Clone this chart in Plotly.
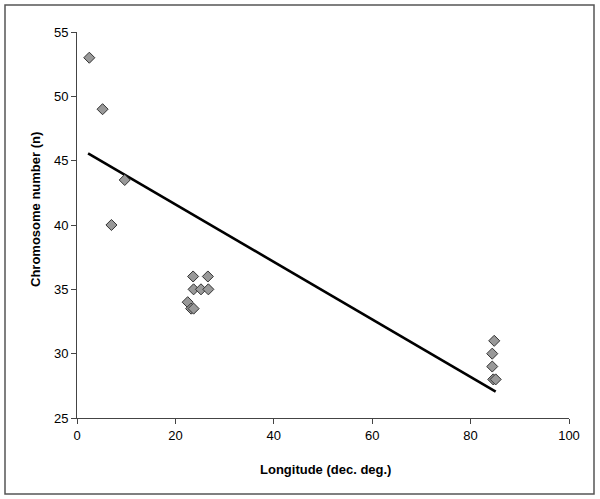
import plotly.graph_objects as go

longitude = [2.5, 5.2, 7.0, 9.7, 23.6, 26.6, 23.7, 25.2, 26.7, 22.5, 23.2, 23.7,
             84.8, 84.4, 84.4, 84.6, 85.1]
chromosomes = [53, 49, 40, 43.5, 36, 36, 35, 35, 35, 34, 33.5, 33.5,
               31, 30, 29, 28, 28]
trend_slope = -0.2234
trend_intercept = 46.07

x_ticks = [0, 20, 40, 60, 80, 100]
y_ticks = [25, 30, 35, 40, 45, 50, 55]
x_title = "Longitude (dec. deg.)"
y_title = "Chromosome number (n)"

tx = [min(longitude) - 0.25, max(longitude)]
ty = [trend_intercept + trend_slope * v for v in tx]

fig = go.Figure()
fig.add_trace(go.Scatter(x=tx, y=ty, mode="lines",
                         line=dict(color="black", width=2.6),
                         hoverinfo="skip", showlegend=False))
fig.add_trace(go.Scatter(x=longitude, y=chromosomes, mode="markers",
                         marker=dict(symbol="diamond", size=8.5, color="#999999",
                                     line=dict(color="#333333", width=1)),
                         showlegend=False))

W, H = 600, 499
l, r, t, b = 77, 31, 32, 81
pw, ph = W - l - r, H - t - b

def px(x):
    return (x - l) / pw

def py(y):
    return (H - b - y) / ph

fig.add_shape(type="rect", xref="paper", yref="paper",
              x0=px(5), x1=px(594), y0=py(494), y1=py(5),
              line=dict(color="#555555", width=1.5))

axis_font = dict(family="Liberation Sans, Arial", size=13, color="black")
fig.add_annotation(text="<b>" + y_title + "</b>", xref="paper", yref="paper",
                   x=px(35), y=py(210), textangle=-90, showarrow=False,
                   xanchor="center", yanchor="middle", font=axis_font)
fig.add_annotation(text="<b>" + x_title + "</b>", xref="paper", yref="paper",
                   x=px(325), y=py(469), showarrow=False,
                   xanchor="center", yanchor="middle", font=axis_font)

fig.update_layout(
    width=W, height=H,
    margin=dict(l=l, r=r, t=t, b=b),
    paper_bgcolor="white", plot_bgcolor="white",
    xaxis=dict(range=[0, 100], tickvals=x_ticks, showgrid=False, zeroline=False,
               showline=True, linecolor="#444444", linewidth=1,
               ticks="outside", ticklen=5, tickcolor="#444444",
               tickfont=axis_font),
    yaxis=dict(range=[25, 55], tickvals=y_ticks, showgrid=False, zeroline=False,
               showline=True, linecolor="#444444", linewidth=1,
               ticks="outside", ticklen=5, tickcolor="#444444",
               tickfont=axis_font),
)

fig.write_html("out.html", config={"displayModeBar": False},
               post_script="document.body.style.margin='0';document.body.style.overflow='hidden';")
